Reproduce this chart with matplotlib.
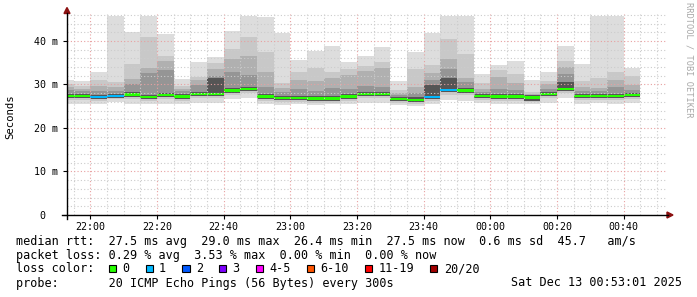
import numpy as np
import pandas as pd
import matplotlib
matplotlib.use("Agg")
import matplotlib.pyplot as plt
import matplotlib.dates as mdates
from matplotlib.ticker import MultipleLocator, FuncFormatter
from matplotlib.patches import Rectangle, Polygon
from matplotlib.transforms import Affine2D

# one bar per 5 minute round, first round starts 21:50
first_round = "2025-12-12 21:50"
view_start = "2025-12-12 21:53:01"
view_end = "2025-12-13 00:53:01"

# median rtt per round (ms) and number of lost pings (of 20)
median = [27.4, 27.4, 27.1, 27.4, 27.7, 27.1, 27.6, 27.2, 27.8, 27.8, 28.6, 29.0,
          27.2, 26.9, 26.9, 26.8, 26.8, 27.2, 27.8, 27.8, 26.7, 26.4, 27.1, 28.7,
          28.6, 27.4, 27.2, 27.2, 27.0, 27.8, 29.0, 27.4, 27.4, 27.4, 27.6]
lost = [0, 0, 1, 1, 0, 0, 0, 0, 0, 0, 0, 0, 0, 0, 0, 0, 0, 0, 0, 0, 0, 0, 1, 1,
        0, 0, 0, 0, 0, 0, 0, 0, 0, 0, 0]

# smoke: upper edges of the bands, outermost (max rtt) first
hi1 = [31.0, 30.8, 32.9, 45.8, 42.1, 45.8, 41.7, 31.3, 35.2, 36.3, 42.3, 45.8,
       45.5, 41.9, 35.6, 37.8, 38.9, 35.2, 36.5, 38.7, 30.8, 37.5, 41.9, 45.8,
       45.8, 32.4, 34.4, 35.4, 31.0, 32.9, 38.9, 34.7, 45.8, 45.8, 33.7]
hi2 = [30.2, 29.7, 31.0, 30.6, 34.7, 41.0, 36.5, 29.7, 31.8, 35.0, 38.1, 41.0,
       37.5, 30.3, 32.9, 33.7, 32.9, 33.6, 34.3, 35.2, 28.7, 33.5, 34.5, 40.4,
       37.0, 30.4, 33.3, 32.4, 28.3, 30.9, 35.4, 30.8, 31.4, 32.9, 32.0]
hi3 = [29.5, 29.0, 29.6, 29.5, 31.3, 33.7, 35.4, 29.0, 31.0, 33.6, 35.9, 36.5,
       32.9, 29.2, 31.0, 30.9, 31.6, 32.1, 33.1, 33.8, 28.0, 29.5, 32.6, 35.9,
       31.4, 29.0, 31.8, 30.3, 27.9, 30.1, 34.1, 29.4, 29.1, 31.0, 29.9]
hi4 = [28.8, 28.4, 28.6, 28.6, 30.1, 32.7, 33.3, 28.5, 29.9, 32.0, 32.9, 32.2,
       29.4, 28.3, 29.0, 28.6, 29.1, 29.0, 29.7, 29.4, 27.6, 28.0, 31.0, 33.5,
       30.6, 28.3, 29.0, 28.8, 27.6, 29.0, 32.4, 28.6, 28.4, 29.4, 28.8]
hi5 = [27.9, 27.9, 27.6, 27.9, 28.2, 27.6, 28.1, 27.7, 28.3, 31.4, 29.1, 29.5,
       27.7, 27.4, 27.4, 27.3, 27.3, 27.7, 28.3, 28.3, 27.2, 27.2, 29.9, 31.4,
       29.1, 27.9, 27.7, 27.7, 27.5, 28.3, 30.6, 27.9, 27.9, 27.9, 28.1]
# lower edges (min rtt first)
lo1 = [25.6, 25.5, 25.4, 26.0, 25.6, 25.5, 25.6, 25.4, 25.7, 25.8, 26.6, 26.8,
       25.6, 25.2, 25.4, 25.3, 25.4, 25.6, 25.8, 25.7, 25.2, 25.0, 25.6, 26.4,
       26.3, 25.8, 25.5, 25.6, 25.4, 25.8, 26.9, 25.6, 25.7, 25.6, 25.8]
lo2 = [26.4, 26.4, 26.1, 26.6, 26.7, 26.1, 26.6, 26.2, 26.8, 26.8, 27.6, 28.0,
       26.2, 25.9, 25.9, 25.8, 25.8, 26.2, 26.8, 26.8, 25.7, 25.5, 26.2, 27.6,
       27.5, 26.4, 26.2, 26.2, 26.0, 26.8, 28.0, 26.4, 26.4, 26.4, 26.6]
lo3 = [26.9, 26.9, 26.6, 26.9, 27.2, 26.6, 27.1, 26.7, 27.3, 27.3, 28.1, 28.5,
       26.7, 26.4, 26.4, 26.3, 26.3, 26.7, 27.3, 27.3, 26.2, 25.9, 26.6, 28.2,
       28.1, 26.9, 26.7, 26.7, 26.2, 27.3, 28.5, 26.9, 26.9, 26.9, 27.1]

loss_labels = ["0", "1", "2", "3", "4-5", "6-10", "11-19", "20/20"]
loss_colors = ["#26ff00", "#00b8ff", "#0059ff", "#7e00ff", "#ff00ff",
               "#ff5500", "#ff0000", "#a10000"]
smoke_grays = ["#dddddd", "#c8c8c8", "#b0b0b0", "#959595", "#555555"]

stats_line = "median rtt:  27.5 ms avg  29.0 ms max  26.4 ms min  27.5 ms now  0.6 ms sd  45.7   am/s"
loss_line = "packet loss: 0.29 % avg  3.53 % max  0.00 % min  0.00 % now"
probe_line = "probe:       20 ICMP Echo Pings (56 Bytes) every 300s"
stamp = "Sat Dec 13 00:53:01 2025"

MONO = "DejaVu Sans Mono"
W, H = 697, 297


def loss_bucket(n):
    if n <= 3:
        return n
    if n <= 5:
        return 4
    if n <= 10:
        return 5
    if n <= 19:
        return 6
    return 7


fig = plt.figure(figsize=(W / 100, H / 100), dpi=100)
# pixel coords measured from top-left of the image
pix = Affine2D().scale(1 / W, -1 / H).translate(0, 1) + fig.transFigure

ax = fig.add_axes([67 / W, 1 - 215 / H, 600 / W, 201 / H])

times = pd.date_range(first_round, periods=len(median), freq="5min")
edges = mdates.date2num(pd.date_range(first_round, periods=len(median) + 1, freq="5min"))
step = 5 / 1440

bands = [(lo1, hi1), (lo2, hi2), (lo3, hi3), (lo3, hi4), (lo3, hi5)]
for (lo, hi), c in zip(bands, smoke_grays):
    ax.stairs(hi, edges, baseline=lo, fill=True, color=c, linewidth=0, zorder=1)

med = np.array(median)
med_cols = [loss_colors[loss_bucket(n)] for n in lost]
ax.bar(mdates.date2num(times), 0.55, bottom=med - 0.275, width=step, align="edge",
       color=med_cols, linewidth=0, zorder=2)

ax.set_xlim(mdates.date2num(pd.Timestamp(view_start)), mdates.date2num(pd.Timestamp(view_end)))
ax.set_ylim(0, 46.2)

ax.xaxis.set_major_locator(mdates.MinuteLocator(byminute=[0, 20, 40]))
ax.xaxis.set_minor_locator(mdates.MinuteLocator(byminute=range(0, 60, 5)))
ax.xaxis.set_major_formatter(mdates.DateFormatter("%H:%M"))
ax.yaxis.set_major_locator(MultipleLocator(10))
ax.yaxis.set_minor_locator(MultipleLocator(2))
ax.yaxis.set_major_formatter(FuncFormatter(lambda v, p: "0  " if v == 0 else f"{v:.0f} m"))

ax.set_axisbelow(False)
ax.grid(which="minor", color="#cccccc", linestyle=(0, (1, 2)), linewidth=0.8)
ax.grid(which="major", color="#e8a0a0", linestyle=(0, (1, 2)), linewidth=0.8)

for s in ax.spines.values():
    s.set_visible(False)
ax.tick_params(which="both", direction="out", color="black", width=0.8)
ax.tick_params(which="major", length=3)
ax.tick_params(which="minor", length=0)
ax.tick_params(axis="y", which="major", pad=3.5)
ax.tick_params(axis="x", which="major", pad=2)
for lab in ax.get_xticklabels() + ax.get_yticklabels():
    lab.set_fontfamily(MONO)
    lab.set_fontsize(7.2)

# axes lines with the little red arrow heads
fig.add_artist(plt.Line2D([62, 668], [215, 215], color="black", lw=1, transform=pix))
fig.add_artist(plt.Line2D([67, 67], [219, 13], color="black", lw=1, transform=pix))
fig.add_artist(Polygon([[667, 212], [673, 215], [667, 218]], closed=True,
                       color="#8b1010", transform=pix))
fig.add_artist(Polygon([[64, 13.5], [67, 7.5], [70, 13.5]], closed=True,
                       color="#8b1010", transform=pix))

fig.text(10, 117, "Seconds", rotation=90, ha="center", va="center",
         fontsize=7.7, family=MONO, transform=pix)
fig.text(689, 60, "RRDTOOL / TOBI OETIKER", rotation=270, ha="center", va="center",
         fontsize=6.2, family=MONO, color="#a8a8a8", transform=pix)

txt = dict(fontsize=8.45, family=MONO, va="center", transform=pix)
fig.text(16, 241, stats_line, **txt)
fig.text(16, 255, loss_line, **txt)
fig.text(16, 268.5, "loss color:", **txt)
fig.text(16, 283, probe_line, **txt)
fig.text(682, 283, stamp, ha="right", **txt)

cw = 7.08
sx = 108.7
for lab, c in zip(loss_labels, loss_colors):
    fig.add_artist(Rectangle((sx, 271.8), 7.3, -7.3, facecolor=c, edgecolor="black",
                             lw=0.8, transform=pix))
    fig.text(sx + 13.5, 268.5, lab, **txt)
    sx += (len(lab) + 4.2) * cw

fig.savefig("out.png", dpi=100, facecolor="white")
